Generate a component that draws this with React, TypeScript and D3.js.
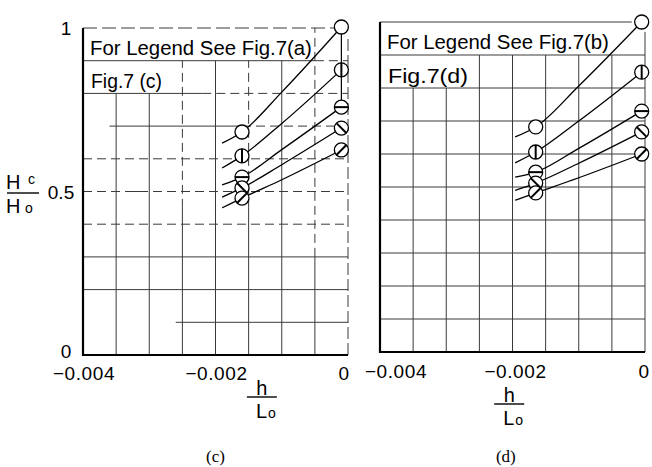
import React from 'react';
import * as d3 from 'd3';

// h/Lo positions of the drawn curves (start of line, left point, mid, right point)
const cX = [-0.0019, -0.0016, -0.001, -0.0001];
const dX = [-0.00196, -0.00165, -0.001, -0.00005];

// Hc/Ho, Fig.7(c)
const cOpen = [0.648, 0.682, 0.804, 1.003];
const cVbar = [0.572, 0.609, 0.708, 0.872];
const cHbar = [0.52, 0.544, 0.628, 0.758];
const cBack = [0.483, 0.511, 0.582, 0.694];
const cSlash = [0.45, 0.48, 0.536, 0.627];

// Hc/Ho, Fig.7(d)
const dOpen = [0.652, 0.682, 0.806, 1.0];
const dVbar = [0.573, 0.606, 0.7, 0.848];
const dHbar = [0.53, 0.545, 0.617, 0.73];
const dBack = [0.49, 0.512, 0.572, 0.667];
const dSlash = [0.46, 0.482, 0.528, 0.6];

const markerKinds = ['open', 'vbar', 'hbar', 'back', 'slash'];
const markedIdx = [1, 3]; // measured points carry the symbols

const xTicks = [-0.004, -0.002, 0];
const yTicks = [0, 0.5, 1];
const yTickText = ['0', '0.5', '1'];

type Seg = { v: number; from: number; to: number; dash?: string };

const DASH = '9 5';

// grid of the scanned paper, panel (c)
const cHLines: Seg[] = [
  { v: 0.1, from: -0.0026, to: 0 },
  { v: 0.2, from: -0.004, to: 0 },
  { v: 0.3, from: -0.004, to: 0 },
  { v: 0.4, from: -0.004, to: 0, dash: DASH },
  { v: 0.5, from: -0.004, to: 0, dash: DASH },
  { v: 0.5, from: -0.0033, to: -0.00305 },
  { v: 0.6, from: -0.004, to: 0, dash: DASH },
  { v: 0.7, from: -0.0036, to: -0.0016 },
  { v: 0.7, from: -0.0016, to: 0, dash: DASH },
  { v: 0.8, from: -0.004, to: -0.0022 },
  { v: 0.8, from: -0.0022, to: 0, dash: DASH },
  { v: 0.9, from: -0.004, to: -0.0005 },
  { v: 0.9, from: -0.0005, to: 0, dash: DASH },
  { v: 1.0, from: -0.004, to: -0.0002, dash: '14 5' },
];
const cVLines: Seg[] = [
  { v: -0.0035, from: 0, to: 0.8 },
  { v: -0.003, from: 0, to: 0.8 },
  { v: -0.0025, from: 0, to: 0.45 },
  { v: -0.0025, from: 0.45, to: 0.9, dash: DASH },
  { v: -0.002, from: 0, to: 0.9 },
  { v: -0.0015, from: 0, to: 0.45 },
  { v: -0.0015, from: 0.45, to: 0.9, dash: DASH },
  { v: -0.001, from: 0, to: 0.9 },
  { v: -0.0005, from: 0, to: 0.3 },
  { v: -0.0005, from: 0.3, to: 1, dash: DASH },
  { v: 0, from: 0, to: 0.97, dash: '12 4' },
];

// panel (d)
const dHLines: Seg[] = [
  ...[0.1, 0.2, 0.3, 0.4, 0.5, 0.6, 0.7, 0.8, 0.9].map(v => ({ v, from: -0.004, to: 0 })),
  { v: 1.0, from: -0.004, to: -0.0002 },
];
const dVLines: Seg[] = [
  { v: -0.0035, from: 0, to: 0.8 },
  { v: -0.003, from: 0, to: 0.8 },
  ...[-0.0025, -0.002, -0.0015, -0.001, -0.0005].map(v => ({ v, from: 0, to: 0.9 })),
  { v: 0, from: 0, to: 0.97 },
];

const FONT = "'Liberation Sans', Arial, sans-serif";

function Marker({ kind, x, y }: { kind: string; x: number; y: number }) {
  const r = 7;
  const k = r * Math.SQRT1_2;
  let bar: [number, number, number, number] | null = null;
  if (kind === 'vbar') bar = [x, y - r, x, y + r];
  if (kind === 'hbar') bar = [x - r, y, x + r, y];
  if (kind === 'back') bar = [x - k, y - k, x + k, y + k];
  if (kind === 'slash') bar = [x - k, y + k, x + k, y - k];
  return (
    <g>
      <circle cx={x} cy={y} r={r} fill="#fff" stroke="#000" strokeWidth={1.3} />
      {bar && (
        <line x1={bar[0]} y1={bar[1]} x2={bar[2]} y2={bar[3]} stroke="#000" strokeWidth={2} />
      )}
    </g>
  );
}

interface PanelProps {
  x: d3.ScaleLinear<number, number>;
  y: d3.ScaleLinear<number, number>;
  xs: number[];
  series: number[][];
  hLines: Seg[];
  vLines: Seg[];
  legend: string;
  figLabel: string;
  figLabelWidth: number;
  showYTicks: boolean;
  connector?: boolean;
  xTickShift: number[];
  xTickDy: number;
}

function Panel({
  x, y, xs, series, hLines, vLines, legend, figLabel, figLabelWidth,
  showYTicks, connector, xTickShift, xTickDy,
}: PanelProps) {
  const line = d3.line<[number, number]>()
    .x(d => x(d[0]))
    .y(d => y(d[1]))
    .curve(d3.curveMonotoneX);

  const x0 = x(-0.004);
  const last = xs[xs.length - 1];

  return (
    <g>
      {/* paper grid */}
      <g stroke="#3a3a3a" strokeWidth={1} fill="none">
        {hLines.map((s, i) => (
          <line key={'h' + i} x1={x(s.from)} x2={x(s.to)} y1={y(s.v)} y2={y(s.v)} strokeDasharray={s.dash} />
        ))}
        {vLines.map((s, i) => (
          <line key={'v' + i} x1={x(s.v)} x2={x(s.v)} y1={y(s.from)} y2={y(s.to)} strokeDasharray={s.dash} />
        ))}
      </g>

      {/* axes */}
      <line x1={x0} x2={x0} y1={y(0) + 1} y2={y(1)} stroke="#000" strokeWidth={2.2} />
      <line x1={x0 - 1} x2={x(0)} y1={y(0)} y2={y(0)} stroke="#000" strokeWidth={2.2} />

      {/* legend box text */}
      <text x={x0 + 7} y={y(0.9) - 6} fontSize={20.5} textLength={x(-0.0005) - x0 - 10}
        lengthAdjust="spacingAndGlyphs" fontFamily={FONT} fill="#000">{legend}</text>
      <text x={x0 + 8} y={y(0.8) - 5} fontSize={20} textLength={figLabelWidth}
        lengthAdjust="spacingAndGlyphs" fontFamily={FONT} fill="#000">{figLabel}</text>

      {/* curves */}
      {series.map((vals, i) => (
        <path key={'c' + i} d={line(xs.map((v, j) => [v, vals[j]] as [number, number])) ?? ''}
          fill="none" stroke="#000" strokeWidth={1.3} />
      ))}
      {connector && (
        <line x1={x(last)} x2={x(last)} y1={y(series[0][3])} y2={y(series[2][3])} stroke="#000" strokeWidth={1.2} />
      )}
      {series.map((vals, i) =>
        markedIdx.map(j => (
          <Marker key={`m${i}-${j}`} kind={markerKinds[i]} x={x(xs[j])} y={y(vals[j])} />
        ))
      )}

      {/* tick labels */}
      {xTicks.map((t, i) => (
        <text key={'xt' + i} x={x(t) + xTickShift[i]} y={y(0) + xTickDy} textAnchor="middle"
          fontSize={19} fontFamily={FONT} letterSpacing={0.6} fill="#000">
          {t === 0 ? '0' : '\u2212' + Math.abs(t).toFixed(3)}
        </text>
      ))}
      {showYTicks && yTicks.map((t, i) => (
        <text key={'yt' + i} x={x0 - (t === 0.5 ? 22 : 17)} y={y(t) + (t === 0 ? 3 : 7)} textAnchor="middle"
          fontSize={19} fontFamily={FONT} fill="#000">{yTickText[i]}</text>
      ))}
    </g>
  );
}

function XTitle({ cx, top }: { cx: number; top: number }) {
  return (
    <g fontFamily={FONT} fill="#000">
      <text x={cx} y={top + 14} textAnchor="middle" fontSize={20}>h</text>
      <line x1={cx - 15} x2={cx + 15} y1={top + 16} y2={top + 16} stroke="#000" strokeWidth={1.4} />
      <text x={cx - 6} y={top + 37} fontSize={20}>L</text>
      <text x={cx + 6} y={top + 37} fontSize={14}>o</text>
    </g>
  );
}

export default function App() {
  const cx = d3.scaleLinear().domain([-0.004, 0]).range([83, 348]);
  const cy = d3.scaleLinear().domain([0, 1]).range([355, 28]);
  const dx = d3.scaleLinear().domain([-0.004, 0]).range([380, 645]);
  const dy = d3.scaleLinear().domain([0, 1]).range([352, 22]);

  return (
    <svg width={652} height={467} style={{ position: 'absolute', left: 0, top: 0, background: '#fff' }}>
      <rect width={652} height={467} fill="#fff" />
      <Panel x={cx} y={cy} xs={cX} series={[cOpen, cVbar, cHbar, cBack, cSlash]}
        hLines={cHLines} vLines={cVLines} legend="For Legend See Fig.7(a)"
        figLabel="Fig.7 (c)" figLabelWidth={71} showYTicks connector
        xTickShift={[1, 1, -4]} xTickDy={25} />
      <Panel x={dx} y={dy} xs={dX} series={[dOpen, dVbar, dHbar, dBack, dSlash]}
        hLines={dHLines} vLines={dVLines} legend="For Legend See Fig.7(b)"
        figLabel="Fig.7(d)" figLabelWidth={80} showYTicks={false}
        xTickShift={[16, 3, -1]} xTickDy={26} />

      {/* y title Hc/Ho */}
      <g fontFamily={FONT} fill="#000">
        <text x={6} y={189} fontSize={20}>H</text>
        <text x={28} y={184} fontSize={14}>c</text>
        <line x1={7} x2={39} y1={193} y2={193} stroke="#000" strokeWidth={1.4} />
        <text x={6} y={213} fontSize={20}>H</text>
        <text x={25} y={213} fontSize={14}>o</text>
      </g>

      <XTitle cx={cx(-0.0013)} top={381} />
      <XTitle cx={dx(-0.00205)} top={388} />

      <text x={cx(-0.002)} y={462} textAnchor="middle" fontSize={17}
        fontFamily="'Liberation Serif', 'Times New Roman', serif">(c)</text>
      <text x={dx(-0.0021)} y={462} textAnchor="middle" fontSize={17}
        fontFamily="'Liberation Serif', 'Times New Roman', serif">(d)</text>
    </svg>
  );
}
